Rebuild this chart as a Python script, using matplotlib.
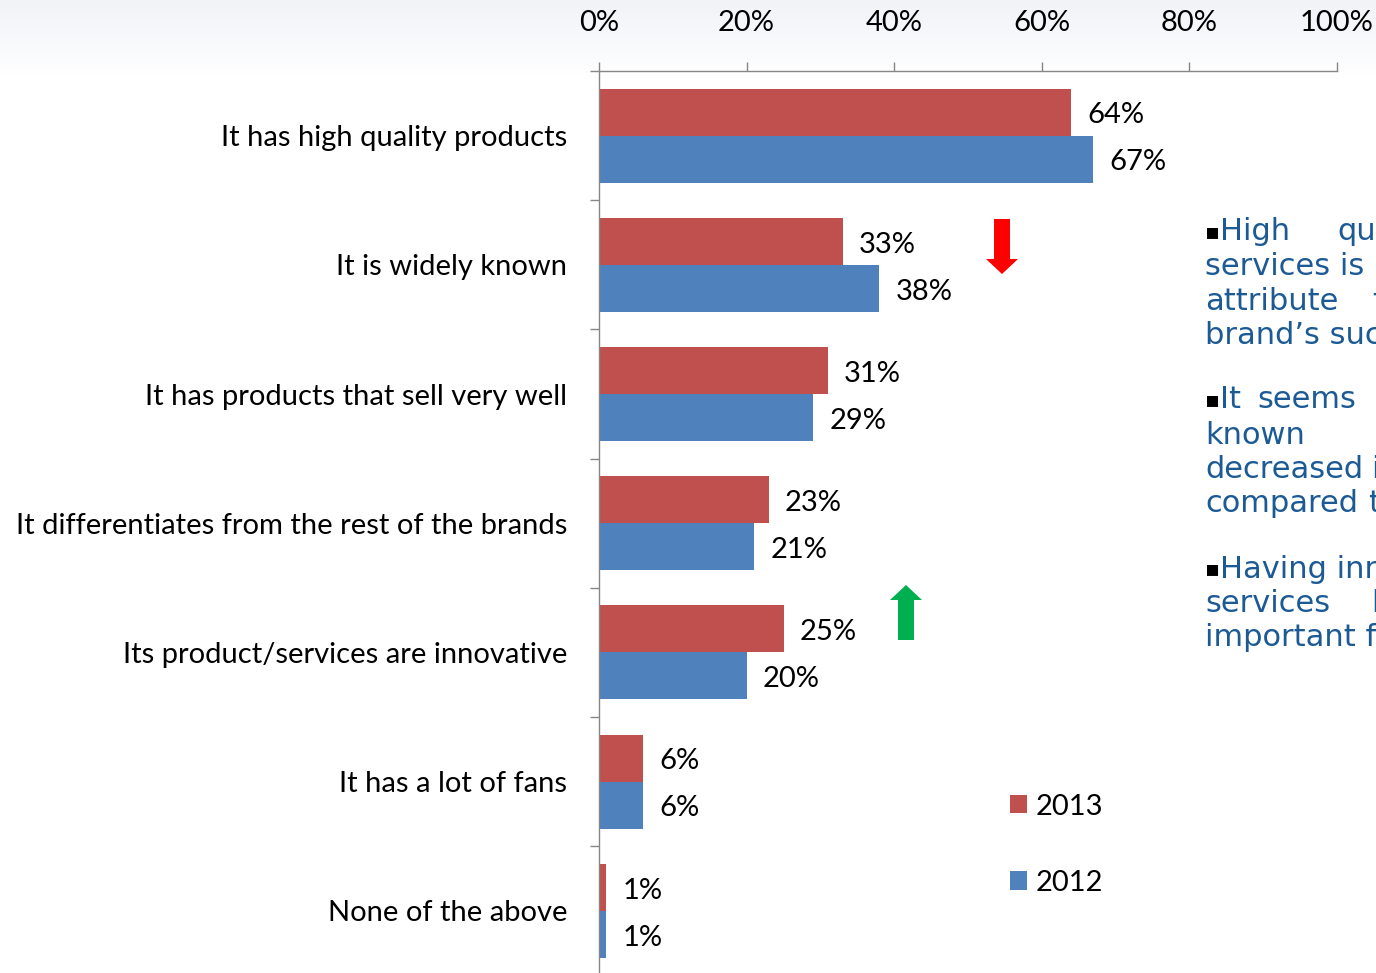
import numpy as np
import matplotlib
matplotlib.use("Agg")
import matplotlib.pyplot as plt
from matplotlib.patches import Polygon

# Survey answers: which attributes explain the brand's success
categories = [
    "It has high quality products",
    "It is widely known",
    "It has products that sell very well",
    "It differentiates from the rest of the brands",
    "Its product/services are innovative",
    "It has a lot of fans",
    "None of the above",
]
share_2013 = [64, 33, 31, 23, 25, 6, 1]
share_2012 = [67, 38, 29, 21, 20, 6, 1]
x_ticks = [0, 20, 40, 60, 80, 100]
x_tick_labels = ["0%", "20%", "40%", "60%", "80%", "100%"]

RED = "#C0504D"
BLUE = "#4F81BD"
GRID_GRAY = "#868686"
NOTE_BLUE = "#1B5A94"
LABEL_FONT = ["Lato", "DejaVu Sans"]
FS = 21

W, H = 1376, 973
fig = plt.figure(figsize=(W / 100, H / 100), dpi=100)
fig.patch.set_facecolor("white")


def px(x, y):
    """Pixel position (from top-left) to figure fraction."""
    return x / W, 1 - y / H


# faint slide backdrop along the top edge
bg = fig.add_axes([0, 1 - 80 / H, 1, 80 / H], zorder=-5)
grad = np.linspace(1, 0, 80)[:, None] * np.ones((1, 200))
bg.imshow(grad, cmap=matplotlib.colors.LinearSegmentedColormap.from_list(
    "haze", ["#FFFFFF", "#F1F3F7"]), aspect="auto", extent=[0, 1, 0, 1])
bg.axis("off")

# main chart area
row_px = 129.2
top_px = 71
n = len(categories)
left, right = px(599, 0)[0], px(1337, 0)[0]
bottom = 1 - (top_px + n * row_px) / H
ax = fig.add_axes([left, bottom, right - left, n * row_px / H])

y = np.arange(n)
bh = 0.364
ax.barh(y - bh / 2, share_2013, height=bh, color=RED, label="2013", zorder=2)
ax.barh(y + bh / 2, share_2012, height=bh, color=BLUE, label="2012", zorder=2)

ax.set_xlim(0, 100)
ax.set_ylim(n - 0.5, -0.5)

dy = 0.025
for yi, v13, v12 in zip(y, share_2013, share_2012):
    ax.text(v13 + 2.2, yi - bh / 2 + dy, f"{v13}%", va="center", ha="left",
            fontsize=FS, family=LABEL_FONT, color="black")
    ax.text(v12 + 2.2, yi + bh / 2 + dy, f"{v12}%", va="center", ha="left",
            fontsize=FS, family=LABEL_FONT, color="black")

# x axis on top
ax.xaxis.tick_top()
ax.set_xticks(x_ticks)
ax.set_xticklabels(x_tick_labels, family=LABEL_FONT, fontsize=FS)
ax.tick_params(axis="x", direction="out", length=6.5, width=1,
               color=GRID_GRAY, pad=19)

# category boundaries as major ticks, names as minor ticks
ax.set_yticks(np.arange(n + 1) - 0.5)
ax.set_yticklabels([])
ax.set_yticks(y, minor=True)
ax.set_yticklabels(categories, minor=True, family=LABEL_FONT, fontsize=FS)
ax.tick_params(axis="y", which="major", direction="out", length=6.5,
               width=1, color=GRID_GRAY)
ax.tick_params(axis="y", which="minor", length=0, pad=23)

for side in ("right", "bottom"):
    ax.spines[side].set_visible(False)
for side in ("top", "left"):
    ax.spines[side].set_color(GRID_GRAY)
    ax.spines[side].set_linewidth(1)
ax.set_facecolor("none")

# legend
handles, labels = ax.get_legend_handles_labels()
leg = fig.legend(handles, labels, loc="upper left",
                 bbox_to_anchor=px(998, 782), frameon=False,
                 prop={"family": LABEL_FONT, "size": FS},
                 handlelength=0.58, handleheight=0.58, handletextpad=0.3,
                 labelspacing=1.72, borderaxespad=0)

# change indicators
def arrow(cx, y_tail, y_tip, color):
    shaft = 8
    head = 16
    d = 1 if y_tip > y_tail else -1
    y_neck = y_tip - d * 15
    pts = [(cx - shaft, y_tail), (cx + shaft, y_tail), (cx + shaft, y_neck),
           (cx + head, y_neck), (cx, y_tip), (cx - head, y_neck),
           (cx - shaft, y_neck)]
    fig.patches.append(Polygon([px(a, b) for a, b in pts], closed=True,
                               transform=fig.transFigure, facecolor=color,
                               edgecolor="none", zorder=5))

arrow(1002, 219, 274, "#FF0000")
arrow(906, 640, 585, "#00B050")

# commentary beside the chart
NOTE_FONT = ["DejaVu Sans"]
note_lines = [
    (232, [(1205, "\u25aaHigh"), (1337, "quality")]),
    (266, [(1205, "services is")]),
    (301, [(1205, "attribute"), (1372, "for")]),
    (335, [(1205, "brand\u2019s success")]),
    (400, [(1205, "\u25aaIt"), (1257, "seems")]),
    (435, [(1205, "known")]),
    (469, [(1205, "decreased"), (1371, "its")]),
    (504, [(1205, "compared"), (1368, "to")]),
    (569, [(1205, "\u25aaHaving innovative")]),
    (604, [(1205, "services"), (1371, "have")]),
    (638, [(1205, "important for")]),
]
for yy, words in note_lines:
    for xx, word in words:
        fx, fy = px(xx, yy)
        if word.startswith("\u25aa"):
            fig.text(fx, fy, "\u25aa", family=NOTE_FONT, fontsize=16,
                     color="black", va="center", ha="left")
            fig.text(fx + 15 / W, fy, word[1:], family=NOTE_FONT,
                     fontsize=22, color=NOTE_BLUE, va="center", ha="left")
        else:
            fig.text(fx, fy, word, family=NOTE_FONT, fontsize=22,
                     color=NOTE_BLUE, va="center", ha="left")

fig.savefig("out.png", dpi=100)
